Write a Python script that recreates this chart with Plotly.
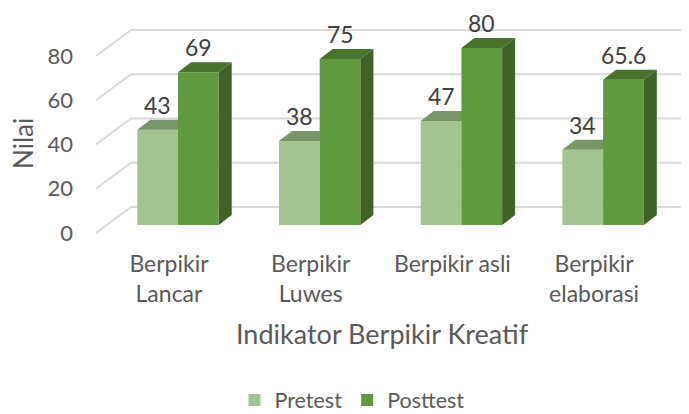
import plotly.graph_objects as go

categories = ["Berpikir<br>Lancar", "Berpikir<br>Luwes", "Berpikir asli", "Berpikir<br>elaborasi"]
pretest = [43, 38, 47, 34]
posttest = [69, 75, 80, 65.6]
y_ticks = [0, 20, 40, 60, 80]
x_title = "Indikator Berpikir Kreatif"
y_title = "Nilai"

OFF = 8                   # the page's own body margin
W, H = 689 - OFF, 414 - OFF
L, B = 80 - OFF, 248 - OFF  # plot area edges in px
PX_Y = 2.2125             # px per value unit
SP_BAR, SP_LAB = 141.7, 141.7
X0_BAR, X0_LAB = 178.0 - OFF, 169.0 - OFF
Y0_TICK, Y0_BAR = 233.0 - OFF, 225.0 - OFF

bw = 40.7 / SP_BAR
dx = 13.0 / SP_BAR
dy = 10.0 / PX_Y
xs = list(range(len(categories)))

C_PRE, C_PRE_TOP = "#A1C490", "#78956A"
C_POST, C_POST_TOP, C_POST_SIDE = "#619A3E", "#47732C", "#3F6327"
FONT = "Lato"
TXT = "#595959"


def top_poly(x0s, vals):
    X, Y = [], []
    for a, v in zip(x0s, vals):
        X += [a, a + bw, a + bw + dx, a + dx, a, None]
        Y += [v, v, v + dy, v + dy, v, None]
    return X, Y


def side_poly(x0s, vals):
    X, Y = [], []
    for a, v in zip(x0s, vals):
        r = a + bw
        X += [r, r + dx, r + dx, r, r, None]
        Y += [0, dy, v + dy, v, 0, None]
    return X, Y


fig = go.Figure()

# walls / floor gridlines, drawn in the tick-axis system
gx0 = (96 - OFF - X0_LAB) / SP_LAB
gx1 = (131 - OFF - X0_LAB) / SP_LAB
gx2 = (W - X0_LAB) / SP_LAB
gdy = 26 / PX_Y
gX, gY = [], []
for t in y_ticks:
    gX += [gx0, gx1, gx2, None]
    gY += [t, t + gdy, t + gdy, None]
fig.add_trace(go.Scatter(x=gX, y=gY, mode="lines", line=dict(color="#D9D9D9", width=1.8),
                         showlegend=False, hoverinfo="skip", xaxis="x", yaxis="y"))

# pretest
pre_x = [i - bw for i in xs]
fig.add_trace(go.Bar(x=xs, y=pretest, width=bw, offset=-bw, name="Pretest",
                     marker=dict(color=C_PRE, line=dict(width=0)), xaxis="x2", yaxis="y2"))
X, Y = top_poly(pre_x, pretest)
fig.add_trace(go.Scatter(x=X, y=Y, mode="none", fill="toself", fillcolor=C_PRE_TOP,
                         showlegend=False, hoverinfo="skip", xaxis="x2", yaxis="y2"))

# posttest
fig.add_trace(go.Bar(x=xs, y=posttest, width=bw, offset=0, name="Posttest",
                     marker=dict(color=C_POST, line=dict(width=0)), xaxis="x3", yaxis="y3"))
X, Y = top_poly(xs, posttest)
fig.add_trace(go.Scatter(x=X, y=Y, mode="none", fill="toself", fillcolor=C_POST_TOP,
                         showlegend=False, hoverinfo="skip", xaxis="x3", yaxis="y3"))
X, Y = side_poly(xs, posttest)
fig.add_trace(go.Scatter(x=X, y=Y, mode="none", fill="toself", fillcolor=C_POST_SIDE,
                         showlegend=False, hoverinfo="skip", xaxis="x3", yaxis="y3"))

# data labels
annotations = []
for i in xs:
    for off, v in ((-bw / 2, pretest[i]), (bw / 2, posttest[i])):
        annotations.append(dict(x=i + off, y=v, xref="x3", yref="y3", text=str(v), showarrow=False,
                                yshift=25, font=dict(family=FONT, size=23, color="#404040")))

# axis titles, placed in paper fractions of the plot area
PW = W - L
annotations.append(dict(x=(382 - OFF - L) / PW, y=(B - (333 - OFF)) / B, xref="paper", yref="paper",
                        xanchor="center", yanchor="middle", text=x_title,
                        showarrow=False, font=dict(family=FONT, size=27, color=TXT)))
annotations.append(dict(x=(23 - OFF - L) / PW, y=(B - (144 - OFF)) / B, xref="paper", yref="paper",
                        xanchor="center", yanchor="middle", text=y_title,
                        textangle=-90, showarrow=False, font=dict(family=FONT, size=26, color=TXT)))

bar_xr = [(L - X0_BAR) / SP_BAR, (W - X0_BAR) / SP_BAR]
bar_yr = [-(B - Y0_BAR) / PX_Y, Y0_BAR / PX_Y]
hidden = dict(visible=False, showgrid=False, zeroline=False, fixedrange=True)

fig.update_layout(
    width=W, height=H, autosize=False,
    margin=dict(l=L, r=0, t=0, b=H - B),
    paper_bgcolor="white", plot_bgcolor="white",
    font=dict(family=FONT, color=TXT),
    barmode="overlay",
    hovermode=False,
    annotations=annotations,
    legend=dict(orientation="h", xref="container", yref="container",
                x=(352 - OFF) / W, xanchor="center",
                y=1 - (400 - OFF) / H, yanchor="middle", font=dict(family=FONT, size=21.5, color=TXT),
                itemwidth=30, traceorder="normal"),
    xaxis=dict(range=[(L - X0_LAB) / SP_LAB, (W - X0_LAB) / SP_LAB], tickmode="array", tickvals=xs,
               ticktext=categories, showgrid=False, zeroline=False, showline=False, ticks="",
               tickangle=0, automargin=False, tickfont=dict(family=FONT, size=23, color=TXT)),
    yaxis=dict(range=[-(B - Y0_TICK) / PX_Y, Y0_TICK / PX_Y], tickmode="array", tickvals=y_ticks,
               showgrid=False, zeroline=False, showline=False, ticks="", automargin=False,
               ticklabelstandoff=6,
               tickfont=dict(family=FONT, size=22, color=TXT)),
    xaxis2=dict(range=bar_xr, overlaying="x", **hidden),
    yaxis2=dict(range=bar_yr, overlaying="y", **hidden),
    xaxis3=dict(range=bar_xr, overlaying="x", **hidden),
    yaxis3=dict(range=bar_yr, overlaying="y", **hidden),
)

fig.write_html("out.html", config=dict(displayModeBar=False))
